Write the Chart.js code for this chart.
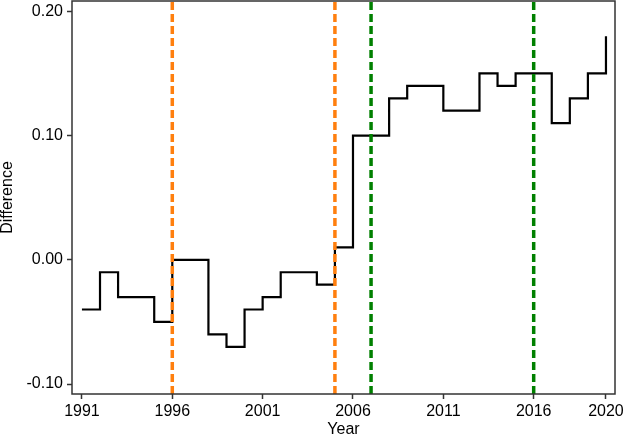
<!DOCTYPE html>
<html>
<head>
<meta charset="utf-8">
<script src="https://cdn.jsdelivr.net/npm/chart.js@4"></script>
<style>
  html, body { margin: 0; padding: 0; background: #fff; }
  #wrap { width: 623px; height: 436px; }
</style>
</head>
<body>
<div id="wrap"><canvas id="diffChart" width="623" height="436"></canvas></div>
<script>
const years = [1991, 1992, 1993, 1994, 1995, 1996, 1997, 1998, 1999, 2000,
               2001, 2002, 2003, 2004, 2005, 2006, 2007, 2008, 2009, 2010,
               2011, 2012, 2013, 2014, 2015, 2016, 2017, 2018, 2019, 2020];
const difference = [-0.04, -0.01, -0.03, -0.03, -0.05, 0.00, 0.00, -0.06, -0.07, -0.04,
                    -0.03, -0.01, -0.01, -0.02, 0.01, 0.10, 0.10, 0.13, 0.14, 0.14,
                    0.12, 0.12, 0.15, 0.14, 0.15, 0.15, 0.11, 0.13, 0.15, 0.18];
const orangeYears = [1996, 2005];
const greenYears = [2007, 2016];
const xTickValues = [1991, 1996, 2001, 2006, 2011, 2016, 2020];
const yTickValues = [-0.10, 0.00, 0.10, 0.20];

const yMin = -0.108, yMax = 0.2083;

function vline(year, color) {
    return {
        data: [{ x: year, y: yMin }, { x: year, y: yMax }],
        borderColor: color,
        borderWidth: 3.5,
        borderDash: [8, 4],
        pointRadius: 0,
        showLine: true,
        order: 0
    };
}

const frame = {
    id: 'frame',
    afterDatasetsDraw(chart) {
        const a = chart.chartArea;
        const ctx = chart.ctx;
        ctx.save();
        ctx.strokeStyle = '#333';
        ctx.lineWidth = 1.5;
        ctx.strokeRect(a.left, a.top, a.right - a.left, a.bottom - a.top);
        ctx.restore();
    }
};

const font = { family: "'Liberation Sans', Arial, sans-serif", size: 16 };

new Chart(document.getElementById('diffChart').getContext('2d'), {
    type: 'scatter',
    data: {
        datasets: [
            {
                data: years.map((y, i) => ({ x: y, y: difference[i] })),
                borderColor: '#000',
                borderWidth: 2.2,
                stepped: 'before',
                showLine: true,
                pointRadius: 0,
                order: 1
            },
            ...orangeYears.map(y => vline(y, '#ff7f0e')),
            ...greenYears.map(y => vline(y, '#008000'))
        ]
    },
    options: {
        responsive: false,
        animation: false,
        layout: { padding: { top: 1, right: 8, left: 0, bottom: 0 } },
        plugins: { legend: { display: false }, tooltip: { enabled: false } },
        scales: {
            x: {
                type: 'linear',
                min: 1990.45,
                max: 2020.5,
                afterBuildTicks: s => { s.ticks = xTickValues.map(v => ({ value: v })); },
                afterFit: s => { s.height = 42; s.paddingLeft = 0; s.paddingRight = 0; },
                grid: { drawOnChartArea: false, tickLength: 5, color: '#333', tickWidth: 1.5 },
                border: { display: false },
                ticks: { color: '#000', font: font, padding: 3, maxRotation: 0, callback: v => String(v) },
                title: { display: true, text: 'Year', color: '#000', font: { ...font, lineHeight: 1 }, padding: { top: 0, bottom: -2 } }
            },
            y: {
                min: yMin,
                max: yMax,
                afterBuildTicks: s => { s.ticks = yTickValues.map(v => ({ value: v })); },
                afterFit: s => { s.width = 72; s.paddingTop = 0; s.paddingBottom = 0; },
                grid: { drawOnChartArea: false, tickLength: 5, color: '#333', tickWidth: 1.5 },
                border: { display: false },
                ticks: { color: '#000', font: font, padding: 4, callback: v => v.toFixed(2) },
                title: { display: true, text: 'Difference', color: '#000', font: { ...font, lineHeight: 1 }, padding: 0 }
            }
        }
    },
    plugins: [frame]
});
</script>
</body>
</html>
